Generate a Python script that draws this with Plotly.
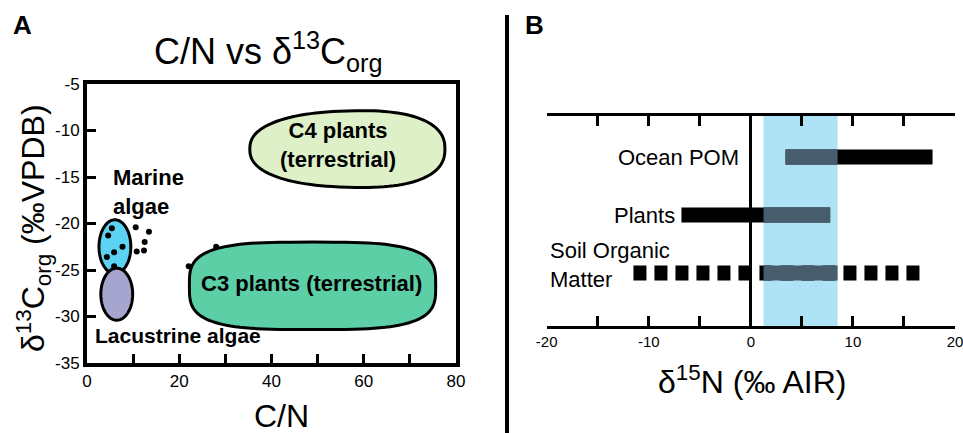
import numpy as np
import plotly.graph_objects as go

# ---------------- Panel A data ----------------
# region extents (C/N min, C/N max, d13C min, d13C max)
c4_region = [35.3, 77.6, -16.1, -7.9]
c3_region = [22.2, 75.6, -31.4, -22.0]
marine_region = [2.6, 9.5, -25.4, -19.6]
lacustrine_region = [3.0, 9.9, -30.4, -24.8]

dots_cn = [5.39, 4.59, 7.69, 5.88, 4.31, 5.88, 10.56, 13.43, 12.5, 12.35, 10.78, 22.05, 28.0]
dots_d13c = [-20.5, -21.3, -22.5, -23.1, -23.6, -24.6, -20.4, -20.9, -22.0, -22.9, -23.0, -24.6, -22.5]

xA_ticks = [0, 20, 40, 60, 80]
xA_labels = ["0", "20", "40", "60", "80"]
yA_ticks = [-35, -30, -25, -20, -15, -10, -5]
yA_labels = ["-35", "-30", "-25", "-20", "-15", "-10", "-5"]

# ---------------- Panel B data ----------------
sources = ["Ocean POM", "Plants", "Soil Organic Matter"]
row_pos = [3, 2, 1]
d15n_low = [3.4, -6.8, -11.5]
d15n_high = [17.8, 7.77, 17.1]
dashed = [False, False, True]
band = [1.24, 8.5]

xB_ticks = [-20, -10, 0, 10, 20]
xB_labels = ["-20", "-10", "0", "10", "20"]

FONT = "Liberation Sans, Arial, sans-serif"
W, H = 963, 433


def px_x(p):
    return p / W


def px_y(p):
    return 1 - p / H


def blob_path(region, n, skew=0.0, npts=120):
    x0, x1, y0, y1 = region
    cx, cy = (x0 + x1) / 2, (y0 + y1) / 2
    a, b = (x1 - x0) / 2, (y1 - y0) / 2
    t = np.linspace(0, 2 * np.pi, npts, endpoint=False)
    c, s = np.cos(t), np.sin(t)
    ex = np.sign(c) * np.abs(c) ** (2 / n)
    ey = np.sign(s) * np.abs(s) ** (2 / n)
    xs = cx + a * ex
    ys = cy + b * ey * (1 + skew * ex)
    pts = " L ".join(f"{x:.4f},{y:.4f}" for x, y in zip(xs, ys))
    return "M " + pts + " Z"


fig = go.Figure()

# Panel A dots
fig.add_trace(go.Scatter(x=dots_cn, y=dots_d13c, mode="markers",
                         marker=dict(color="black", size=6),
                         xaxis="x", yaxis="y", showlegend=False, hoverinfo="skip"))

shapes = []
for region, n, skew, fill in [
    (c4_region, 2.4, 0.08, "#def0c8"),
    (c3_region, 3.4, 0.0, "#5ccfa6"),
    (marine_region, 2.0, 0.0, "#5dd3f3"),
    (lacustrine_region, 2.0, 0.0, "#a6a5d0"),
]:
    shapes.append(dict(type="path", path=blob_path(region, n, skew), xref="x", yref="y",
                       fillcolor=fill, line=dict(color="black", width=3), layer="below"))

# Panel B band
shapes.append(dict(type="rect", xref="x2", yref="y2 domain", x0=band[0], x1=band[1], y0=0, y1=1,
                   fillcolor="#aee3f5", line=dict(width=0), layer="below"))
# divider
shapes.append(dict(type="line", xref="paper", yref="paper", x0=px_x(507), x1=px_x(507),
                   y0=0, y1=px_y(15), line=dict(color="black", width=4)))

# Panel B bars
for name, y, lo, hi, d in zip(sources, row_pos, d15n_low, d15n_high, dashed):
    fig.add_trace(go.Scatter(x=[lo, hi], y=[y, y], mode="lines",
                             line=dict(color="black", width=15, dash="13px,8px" if d else "solid"),
                             xaxis="x2", yaxis="y2", showlegend=False, hoverinfo="skip"))
    olo, ohi = max(lo, band[0]), min(hi, band[1])
    if ohi > olo:
        fig.add_trace(go.Scatter(x=[olo, ohi], y=[y, y], mode="lines",
                                 line=dict(color="#485d6b", width=15),
                                 xaxis="x2", yaxis="y2", showlegend=False, hoverinfo="skip"))

ann = []
tf = dict(family=FONT, color="black")
ann.append(dict(text="C4 plants<br>(terrestrial)", x=54.4, y=-11.6, xref="x", yref="y",
                showarrow=False, font=dict(size=22, **tf), xanchor="center", yanchor="middle"))
ann.append(dict(text="C3 plants (terrestrial)", x=48.7, y=-26.4, xref="x", yref="y",
                showarrow=False, font=dict(size=22, **tf), xanchor="center", yanchor="middle"))
ann.append(dict(text="Marine<br>algae", x=5.2, y=-16.6, xref="x", yref="y", align="left",
                showarrow=False, font=dict(size=22, **tf), xanchor="left", yanchor="middle"))
ann.append(dict(text="Lacustrine algae", x=1.3, y=-32.0, xref="x", yref="y",
                showarrow=False, font=dict(size=21, **tf), xanchor="left", yanchor="middle"))
for a in ann:
    a["font"]["weight"] = "bold"

ann.append(dict(text="C/N vs δ<sup>13</sup>C<sub>org</sub>", x=px_x(268), y=px_y(52), xref="paper", yref="paper",
                showarrow=False, font=dict(size=36, **tf), xanchor="center", yanchor="middle"))
ann.append(dict(text="δ<sup>13</sup>C<sub>org</sub> (‰VPDB)", x=px_x(33), y=px_y(228), xref="paper", yref="paper",
                textangle=-90, showarrow=False, font=dict(size=32, **tf), xanchor="center", yanchor="middle"))
ann.append(dict(text="C/N", x=px_x(281), y=px_y(416), xref="paper", yref="paper",
                showarrow=False, font=dict(size=32, **tf), xanchor="center", yanchor="middle"))
ann.append(dict(text="δ<sup>15</sup>N (‰ AIR)", x=px_x(752), y=px_y(380), xref="paper", yref="paper",
                showarrow=False, font=dict(size=32, **tf), xanchor="center", yanchor="middle"))
ann.append(dict(text="<b>A</b>", x=px_x(11), y=px_y(25), xref="paper", yref="paper",
                showarrow=False, font=dict(size=26, **tf), xanchor="left", yanchor="middle"))
ann.append(dict(text="<b>B</b>", x=px_x(523), y=px_y(25), xref="paper", yref="paper",
                showarrow=False, font=dict(size=26, **tf), xanchor="left", yanchor="middle"))

# Panel B labels
ann.append(dict(text=sources[0], x=-1.0, y=row_pos[0], xref="x2", yref="y2",
                showarrow=False, font=dict(size=22, **tf), xanchor="right", yanchor="middle"))
ann.append(dict(text=sources[1], x=-7.2, y=row_pos[1], xref="x2", yref="y2",
                showarrow=False, font=dict(size=22, **tf), xanchor="right", yanchor="middle"))
ann.append(dict(text="Soil Organic<br>Matter", x=-19.9, y=row_pos[2] + 0.13, xref="x2", yref="y2", align="left",
                showarrow=False, font=dict(size=22, **tf), xanchor="left", yanchor="middle"))

fig.update_layout(
    template="none",
    width=W, height=H, margin=dict(l=0, r=0, t=0, b=0, pad=0, autoexpand=False),
    paper_bgcolor="white", plot_bgcolor="white",
    font=dict(family=FONT, color="black"),
    shapes=shapes, annotations=ann, showlegend=False,
    xaxis=dict(domain=[px_x(87), px_x(456)], range=[0, 80], tickmode="array",
               tickvals=xA_ticks, ticktext=xA_labels, ticks="inside", ticklen=9, tickwidth=3,
               tickcolor="black", showline=True, linewidth=4, linecolor="black", mirror=True,
               minor=dict(ticks="inside", dtick=10, tick0=0, ticklen=9, tickwidth=3, tickcolor="black",
                          showgrid=False),
               showgrid=False, zeroline=False, tickfont=dict(size=17), anchor="y", automargin=False,
               ticklabeloverflow="allow"),
    yaxis=dict(domain=[px_y(363), px_y(84)], range=[-35, -5], tickmode="array",
               tickvals=yA_ticks, ticktext=yA_labels, ticks="inside", ticklen=9, tickwidth=3,
               tickcolor="black", showline=True, linewidth=4, linecolor="black", mirror=True,
               showgrid=False, zeroline=False, tickfont=dict(size=17), anchor="x", automargin=False,
               ticklabeloverflow="allow"),
    xaxis2=dict(domain=[px_x(546.7), px_x(955)], range=[-20, 20], tickmode="array",
                tickvals=xB_ticks, ticktext=xB_labels, ticks="inside", ticklen=10, tickwidth=3,
                tickcolor="black", showline=True, linewidth=3, linecolor="black", mirror="ticks",
                minor=dict(ticks="inside", dtick=5, tick0=0, ticklen=10, tickwidth=3, tickcolor="black",
                           showgrid=False),
                showgrid=False, zeroline=True, zerolinecolor="black", zerolinewidth=3,
                tickfont=dict(size=15), anchor="y2", automargin=False, ticklabeloverflow="allow"),
    yaxis2=dict(domain=[px_y(326), px_y(116)], range=[0.086, 3.707], visible=False, anchor="x2",
                automargin=False),
)

fig.write_html("out.html")
